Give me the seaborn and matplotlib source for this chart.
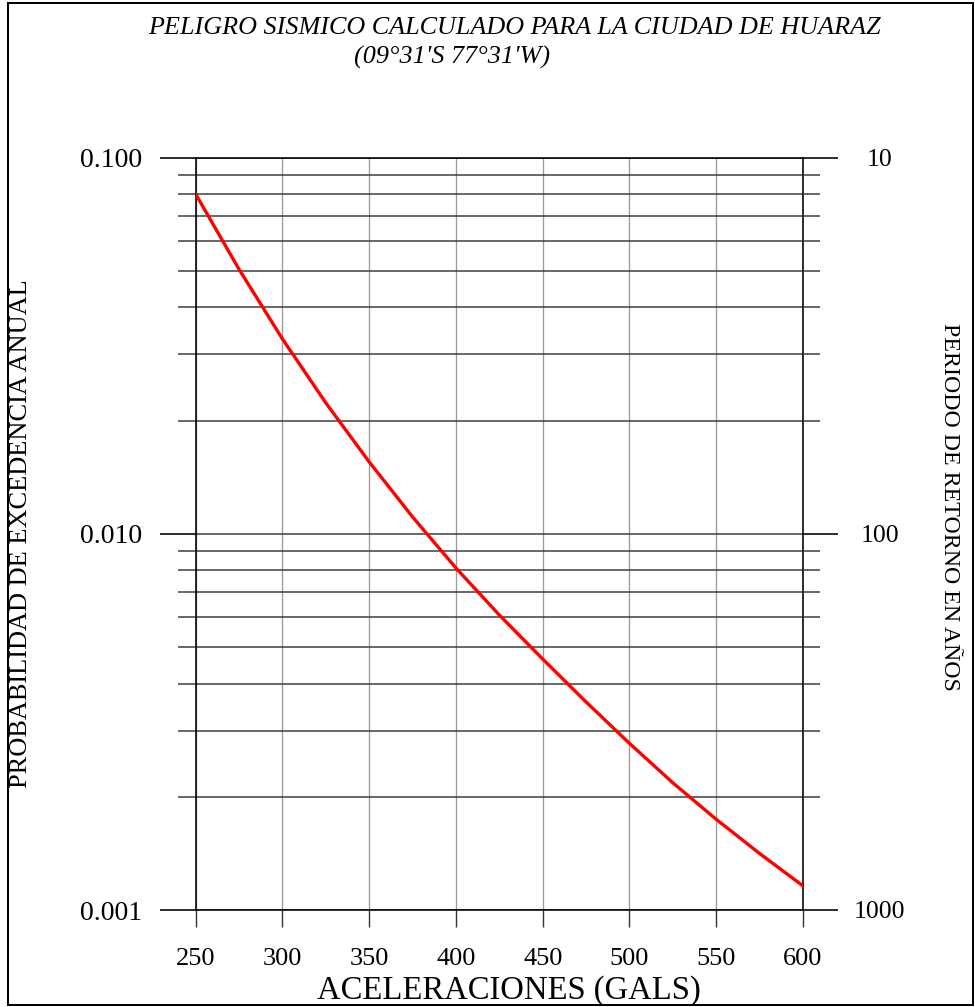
import numpy as np
import matplotlib
matplotlib.use("Agg")
import matplotlib.pyplot as plt
from matplotlib.ticker import NullFormatter, FixedLocator
from matplotlib.patches import Rectangle
import seaborn as sns

# Seismic hazard curve for Huaraz: acceleration (gals) vs annual exceedance probability
acceleration = [250, 275, 300, 325, 350, 375, 400, 425, 450, 475, 500, 525, 550, 575, 600]
probability = [0.0800, 0.05048, 0.03297, 0.02229, 0.01553, 0.01109, 0.008111, 0.006083,
               0.004646, 0.003573, 0.002773, 0.002178, 0.001742, 0.001413, 0.001159]

x_ticks = [250, 300, 350, 400, 450, 500, 550, 600]
prob_ticks = [0.1, 0.01, 0.001]
prob_labels = ["0.100", "0.010", "0.001"]
period_labels = ["10", "100", "1000"]

title_line1 = "PELIGRO SISMICO CALCULADO PARA LA CIUDAD DE HUARAZ"
title_line2 = "(09°31'S 77°31'W)"

sns.set_style("white")
plt.rcParams["font.family"] = ["Liberation Serif", "DejaVu Serif"]
for key in ("text.color", "axes.labelcolor", "xtick.labelcolor", "ytick.labelcolor"):
    plt.rcParams[key] = "black"

W, H = 975, 1007
fig = plt.figure(figsize=(W / 100, H / 100), dpi=100)

# axes box in pixel coordinates
x0, x1 = 195.7, 803.0
y_top, y_bot = 157.7, 910.0
ax = fig.add_axes([x0 / W, 1 - y_bot / H, (x1 - x0) / W, (y_bot - y_top) / H])

sns.lineplot(x=np.array(acceleration), y=np.array(probability), ax=ax,
             color="#ff0000", lw=2.4, zorder=5)

ax.set_yscale("log")
ax.set_xlim(250, 600)
ax.set_ylim(0.001, 0.1)

ax.set_xticks(x_ticks)
ax.set_xticklabels([str(v) for v in x_ticks])
ax.set_yticks(prob_ticks)
ax.set_yticklabels(prob_labels)
minor_locs = [m * 10.0 ** e for e in (-3, -2) for m in range(2, 10)]
ax.yaxis.set_minor_locator(FixedLocator(minor_locs))
ax.yaxis.set_minor_formatter(NullFormatter())

px = 0.72  # points per pixel
grid_col_v = "#9a9a9a"
grid_col_h = "#3a3a3a"
ax.grid(False)
ax.xaxis.grid(True, which="major", color=grid_col_v, lw=1.3 * px)
ax.yaxis.grid(True, which="both", color=grid_col_h, lw=1.5 * px)

for s in ax.spines.values():
    s.set_color("black")
    s.set_linewidth(1.6 * px)

ax.tick_params(axis="x", which="major", direction="out", length=16.7 * px,
               width=1.4 * px, color="#333333", labelsize=19, pad=15.5, bottom=True)
ax.tick_params(axis="y", which="major", direction="out", length=35.7 * px,
               width=1.6 * px, color="black", labelsize=20, pad=13, left=True)
ax.tick_params(axis="y", which="minor", direction="out", length=17.7 * px,
               width=1.5 * px, color=grid_col_h, left=True)

# return period axis on the right
ax2 = ax.twinx()
ax2.set_yscale("log")
ax2.set_ylim(0.001, 0.1)
ax2.set_yticks(prob_ticks)
ax2.set_yticklabels(period_labels)
ax2.yaxis.set_minor_locator(FixedLocator(minor_locs))
ax2.yaxis.set_minor_formatter(NullFormatter())
ax2.grid(False)
for s in ax2.spines.values():
    s.set_visible(False)
ax2.tick_params(axis="y", which="major", direction="out", length=35 * px,
                width=1.6 * px, color="black", labelsize=18.5, pad=30, right=True)
ax2.tick_params(axis="y", which="minor", direction="out", length=17 * px,
                width=1.5 * px, color=grid_col_h, right=True)
for lab in ax2.get_yticklabels():
    lab.set_horizontalalignment("center")

# axis titles
ax.set_xlabel("ACELERACIONES (GALS)", fontsize=23.5)
ax.xaxis.set_label_coords((509 - x0) / (x1 - x0), (y_bot - 991) / (y_bot - y_top))
ax.xaxis.label.set_va("center")
ax.set_ylabel("PROBABILIDAD DE EXCEDENCIA ANUAL", fontsize=19)
ax.yaxis.set_label_coords((21 - x0) / (x1 - x0), (y_bot - 534) / (y_bot - y_top))
ax.yaxis.label.set_va("center")
ax2.set_ylabel("PERIODO DE RETORNO EN AÑOS", fontsize=17.2, rotation=270)
ax2.yaxis.set_label_coords((950 - x0) / (x1 - x0), (y_bot - 507) / (y_bot - y_top))
ax2.yaxis.label.set_va("center")

# title
fig.text(514 / W, 1 - 27.5 / H, title_line1, ha="center", va="center",
         fontsize=18.8, style="italic")
fig.text(452 / W, 1 - 57.5 / H, title_line2, ha="center", va="center",
         fontsize=18.8, style="italic")

# frame around the sheet
fig.patches.append(Rectangle((8 / W, 2.5 / H), (973 - 8) / W, (1004.5 - 2.5) / H,
                             transform=fig.transFigure, fill=False,
                             lw=2.0 * px, ec="black"))

fig.savefig("out.png", dpi=100)
